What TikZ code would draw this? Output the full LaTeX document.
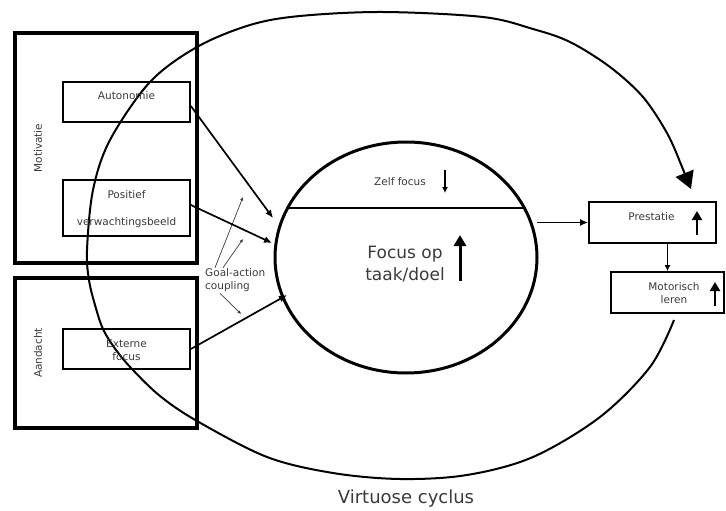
\documentclass[tikz,border=0pt]{standalone}
\usepackage{fontspec}
\setmainfont{DejaVu Sans}
\usetikzlibrary{arrows.meta,shapes.geometric,calc}
\definecolor{txt}{HTML}{3A3A3A}
\begin{document}
\begin{tikzpicture}[x=1pt,y=-1pt,
  lbl/.style={font=\fontsize{10.5}{13}\selectfont, text=txt, inner sep=0pt, align=center},
  groupbox/.style={draw, line width=3.2pt, minimum width=182pt, inner sep=0pt},
  itembox/.style={draw, line width=1.7pt, minimum width=127pt, inner sep=0pt},
  conn/.style={line width=1.7pt, -{Latex[length=8pt,width=7pt]}},
  thinarr/.style={line width=0.7pt, draw=txt, -{Latex[length=3.5pt,width=3.5pt]}},
  smallup/.style={line width=2.6pt, -{Triangle[length=9pt,width=10pt]}},
  cycle/.style={line width=2pt}
]
\useasboundingbox (0,0) rectangle (726,511);

% big virtuous cycle
\draw[cycle] plot[smooth, tension=0.55] coordinates {
 (674,320) (650,367) (600,417) (533,457) (467,475) (400,479) (333,473)
 (267,457) (197,421) (160,396) (132,369) (116,350) (103,329) (95,305) (89,280) (87,250) (93,190) (110,140)
 (150,82) (197,47) (250,25) (300,16) (383,12) (483,17) (533,29)
 (570,42) (610,67) (643,97) (667,133) (680,162)};
\coordinate (cyclend) at (691,189);
\draw[cycle, -{Triangle[length=17pt,width=19pt]}] (680,162) -- (cyclend);

% group boxes
\node[groupbox, minimum height=230pt] (motbox) at (106,148) {};
\node[lbl, rotate=90] (motl) at (38,148) {Motivatie};
\node[groupbox, minimum height=150pt] (aanbox) at (106,353) {};
\node[lbl, rotate=90] (aanl) at (38,353) {Aandacht};

% item boxes
\node[itembox, minimum height=40pt] (auto) at (126.5,102) {};
\node[lbl] (autot) at (126.5,96) {Autonomie};
\node[itembox, minimum height=56pt] (pos) at (126.5,208) {};
\node[lbl] (post) at (126.5,195) {Positief};
\node[lbl] (posv) at (126.5,223) {verwachtingsbeeld};
\node[itembox, minimum height=40pt] (ext) at (126.5,349) {};
\node[lbl] (extt) at (126.5,350) {Externe\\focus};

% central ellipse
\node[draw, ellipse, line width=3pt, minimum width=262pt, minimum height=231pt, inner sep=0pt, outer sep=0pt] (focus) at (406,257.5) {};
\draw[line width=2pt] ($(focus.center)+(-119,-49.5)$) -- ($(focus.center)+(119,-49.5)$);
\node[lbl] (zelf) at (400,182) {Zelf focus};
\draw[line width=1.5pt, -{Latex[length=6pt,width=6pt]}] (445,170) -- (445,193);
\node[font=\fontsize{17}{22}\selectfont, text=txt, align=center, inner sep=0pt] (task) at (405,264) {Focus op\\taak/doel};
\draw[line width=3pt, -{Triangle[length=11pt,width=12pt]}] (460,281) -- (460,235);

% goal-action coupling
\node[lbl, anchor=west, align=left] (gac) at (205,280.5) {Goal-action\\coupling};
\coordinate (g1) at (243,197);
\coordinate (g2) at (243,239);
\coordinate (g3) at (241,314);
\draw[thinarr] ([xshift=10pt,yshift=1pt]gac.north west) -- (g1);
\draw[thinarr] ([xshift=18pt,yshift=1pt]gac.north west) -- (g2);
\draw[thinarr] ([xshift=15pt,yshift=-1pt]gac.south west) -- (g3);

% connectors into ellipse
\draw[conn] ([yshift=-4pt]auto.east) -- ($(focus.center)+(-133,-39.5)$);
\draw[conn] ([yshift=3pt]pos.east) -- ($(focus.center)+(-134,-14.5)$);
\draw[conn] (ext.east) -- ($(focus.center)+(-119,37.5)$);

% right side
\node[itembox, minimum height=41pt] (prest) at (652.5,222.5) {};
\node[lbl] (prestt) at (651.5,217) {Prestatie};
\draw[smallup] (697,235) -- (697,211);
\node[itembox, minimum width=113pt, minimum height=41pt] (mot) at (667.5,292.5) {};
\node[lbl] (mott) at (674,293) {Motorisch\\leren};
\draw[smallup] (715,306) -- (715,282);
\draw[conn] (focus.east |- prest.west) -- (prest.west);
\draw[line width=1.6pt, -{Latex[length=6pt,width=6pt]}] (mot.north |- prest.south) -- (mot.north);

% title
\node[font=\fontsize{18}{22}\selectfont, text=txt, inner sep=0pt] (title) at (406,499) {Virtuose cyclus};
\end{tikzpicture}
\end{document}
